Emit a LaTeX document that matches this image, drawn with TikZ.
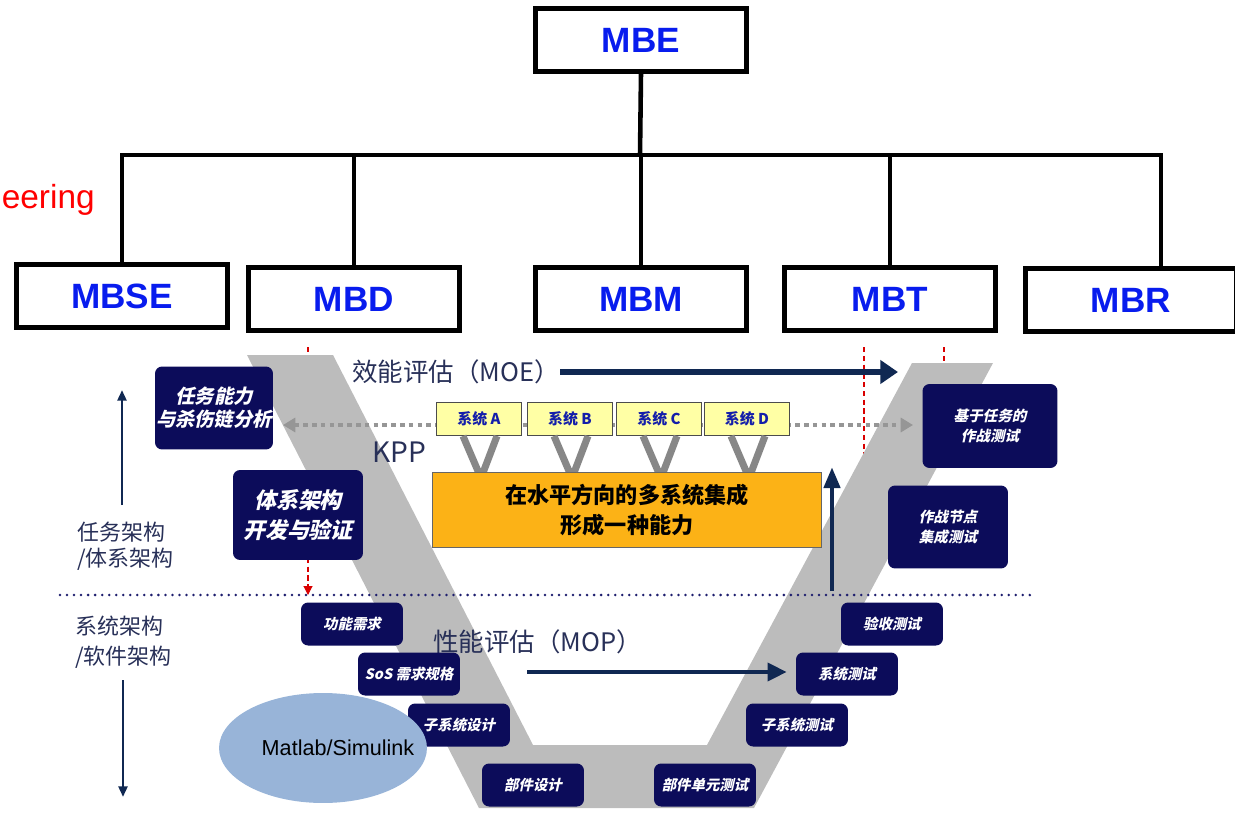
\documentclass[tikz,border=0pt]{standalone}
\usepackage{fontspec}
\usepackage{tikz}
\usetikzlibrary{arrows.meta, calc, shapes.geometric}
\setmainfont{Liberation Sans}
\newfontfamily\cjk{Noto Sans CJK SC}
\newfontfamily\cjkbi{Noto Sans CJK SC}[FakeSlant=0.22]

\definecolor{mbblue}{RGB}{8,28,238}
\definecolor{boxnavy}{RGB}{12,12,90}
\definecolor{arrnavy}{RGB}{16,40,82}
\definecolor{labnavy}{RGB}{40,48,88}
\definecolor{bandgray}{RGB}{188,188,188}
\definecolor{kppgray}{RGB}{150,150,150}
\definecolor{sysyellow}{RGB}{255,255,165}
\definecolor{capaorange}{RGB}{252,178,22}
\definecolor{simblue}{RGB}{152,180,216}
\definecolor{dotnavy}{RGB}{30,30,110}

\begin{document}
\begin{tikzpicture}[x=0.02cm, y=-0.02cm,
	mb/.style={draw, line width=2.6pt, minimum width=4.22cm, minimum height=1.26cm, text=mbblue, font=\bfseries\fontsize{20}{24}\selectfont},
	treeline/.style={line width=2.6pt},
	darkbox/.style={fill=boxnavy, rounded corners=4pt, text=white, align=center, inner sep=0pt},
	stagebox/.style={darkbox, minimum width=2.04cm, minimum height=0.86cm, font=\cjkbi\bfseries\fontsize{8.2}{10}\selectfont},
	sysbox/.style={draw=black!70, line width=0.6pt, fill=sysyellow, minimum width=1.7cm, minimum height=0.66cm, text={rgb,255:red,20;green,30;blue,170}, font=\cjk\bfseries\fontsize{8.5}{10}\selectfont},
	bigarrow/.style={arrnavy, line width=3pt, -{Triangle[length=10pt,width=13pt]}},
	thinarrow/.style={arrnavy, line width=1.7pt, -{Triangle[length=6pt,width=5pt]}},
	redguide/.style={red!85!black, line width=0.6pt, dash pattern=on 3pt off 2pt},
	lab/.style={text=labnavy, font=\cjk\fontsize{12.5}{15}\selectfont, align=left, inner sep=0pt}
	]
	\useasboundingbox (0,0) rectangle (1235,825);
	\clip (0,0) rectangle (1235,825);

	\node[mb] (mbe)  at (641,40)  {MBE};
	\node[mb] (mbse) at (122,296) {MBSE};
	\node[mb] (mbd)  at (354,299) {MBD};
	\node[mb] (mbm)  at (641,299) {MBM};
	\node[mb] (mbt)  at (890,299) {MBT};
	\node[mb] (mbr)  at (1131,300) {MBR};
	\node[red, font=\fontsize{19}{22}\selectfont, anchor=east, inner sep=0pt] (eng) at (95,200) {eering};

	\coordinate (bus) at (640,155);
	\draw[treeline]	(mbe.south) -- (bus);
	\draw[treeline]	(mbse.north) |- (bus) -| ($(mbr.north)+(30,0)$);
	\foreach \n in {mbd,mbm,mbt}
		\draw[treeline]	(\n.north) -- (\n.north |- bus);

	\coordinate (dotL) at (60,595);
	\coordinate (dotR) at (1032,595);
	\coordinate (redA) at (308,347);
	\coordinate (redB) at (864,347);
	\coordinate (redC) at (944,347);
	\draw[redguide, -{Triangle[length=5pt,width=5pt]}]	(redA) -- (redA |- dotL);
	\draw[redguide]	(redB) -- (redB |- dotL);
	\draw[redguide]	(redC) -- ++(0,22);

	\fill[bandgray]	(247,355) -- (333,355) -- (533,745) -- (707,745) -- (912,363) -- (993,363) -- (754,808) -- (479,808) -- cycle;

	\draw[dotnavy, line width=1.6pt, line cap=round, dash pattern=on 0pt off 4pt]	(dotL) -- (dotR);

	\node[darkbox, minimum width=2.36cm, minimum height=1.66cm, font=\cjkbi\bfseries\fontsize{11}{13}\selectfont] (task) at (214,408) {任务能力\\与杀伤链分析};
	\node[darkbox, minimum width=2.7cm, minimum height=1.68cm, font=\cjkbi\bfseries\fontsize{8.3}{11.3}\selectfont] (optest) at (990,426) {基于任务的\\作战测试};

	\coordinate (kppL) at (283,425);
	\coordinate (kppR) at (913,425);
	\draw[kppgray, line width=2.4pt, dash pattern=on 2.6pt off 2.4pt, {Triangle[length=7pt,width=8pt]}-{Triangle[length=7pt,width=8pt]}]	(kppL) -- (kppR);

	\node[sysbox] (sysA) at (479,419) {系统 A};
	\node[sysbox] (sysB) at (570,419) {系统 B};
	\node[sysbox] (sysC) at (659,419) {系统 C};
	\node[sysbox] (sysD) at (747,419) {系统 D};
	\foreach \s in {sysA,sysB,sysC,sysD}
		\draw[kppgray!90!black, line width=4pt]	($(\s.south)+(-16,0)$) -- ($(\s.south)+(2,42)$) -- ($(\s.south)+(18,0)$);

	\node[draw=black!60, line width=0.6pt, fill=capaorange, minimum width=7.78cm, minimum height=1.5cm, align=center, font=\cjk\bfseries\fontsize{12.6}{17.5}\selectfont] (capa) at (627,510) {在水平方向的多系统集成\\形成一种能力};

	\node[lab, font=\cjk\fontsize{16}{18}\selectfont, anchor=west] (kpp) at (372,452) {KPP};
	\node[lab, font=\cjk\fontsize{14.5}{17}\selectfont, anchor=west] (moe) at (352,372) {效能评估（MOE）};
	\node[lab, font=\cjk\fontsize{14.5}{17}\selectfont, anchor=west] (mop) at (433,642) {性能评估（MOP）};
	\coordinate (moetip) at (898,372);
	\draw[bigarrow]	(moe.east) -- (moetip);

	\coordinate (upfoot) at (832,591);
	\coordinate (uptip) at (832,467);
	\draw[bigarrow, line width=2.8pt, -{Triangle[length=12pt,width=9pt]}]	(upfoot) -- (uptip);

	\node[darkbox, minimum width=2.6cm, minimum height=1.8cm, font=\cjkbi\bfseries\fontsize{12.5}{17}\selectfont] (arch) at (298,515) {体系架构\\开发与验证};
	\node[darkbox, minimum width=2.4cm, minimum height=1.66cm, font=\cjkbi\bfseries\fontsize{8.3}{11.3}\selectfont] (nodetest) at (948,527) {作战节点\\集成测试};

	\node[stagebox] (func)    at (352,624) {功能需求};
	\node[stagebox] (sosreq)  at (409,674) {SoS 需求规格};
	\node[stagebox] (subdes)  at (459,725) {子系统设计};
	\node[stagebox] (partdes) at (533,785) {部件设计};
	\node[stagebox] (unittest) at (705,785) {部件单元测试};
	\node[stagebox] (subtest) at (797,725) {子系统测试};
	\node[stagebox] (systest) at (847,674) {系统测试};
	\node[stagebox] (acctest) at (892,624) {验收测试};

	\coordinate (moptail) at (527,672);
	\draw[bigarrow, line width=2.8pt, -{Triangle[length=11pt,width=10pt]}]	(moptail) -- (moptail -| systest.west) [shorten >=5pt];

	\node[ellipse, fill=simblue, minimum width=4.16cm, minimum height=2.2cm] (sim) at (323,748) {};
	\node[font=\fontsize{12.3}{14}\selectfont, inner sep=0pt] (simtext) at ($(sim)+(15,0)$) {Matlab/Simulink};

	\node[lab, anchor=west] (misarch) at (77,546) {任务架构\\/体系架构};
	\node[lab, font=\cjk\fontsize{12.5}{17}\selectfont, anchor=west] (sysarch) at (75,642) {系统架构\\/软件架构};
	\coordinate (upfrom) at (122,505);
	\coordinate (upto) at (122,390);
	\coordinate (downfrom) at (123,680);
	\coordinate (downto) at (123,797);
	\draw[thinarrow]	(upfrom) -- (upto);
	\draw[thinarrow]	(downfrom) -- (downto);
\end{tikzpicture}
\end{document}
